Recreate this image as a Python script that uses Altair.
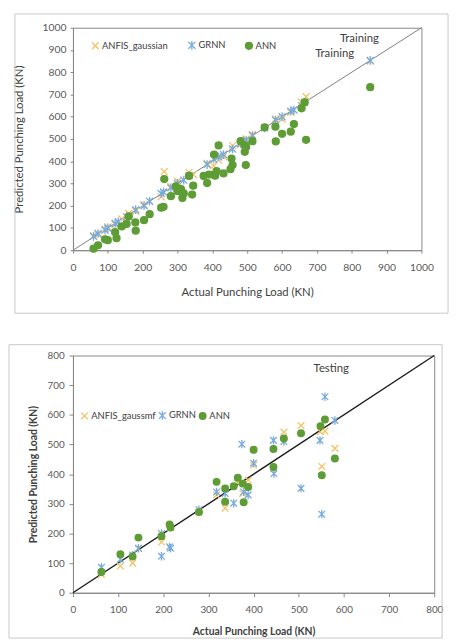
import altair as alt
import pandas as pd

# ---------------- Training (top) ----------------
names_top = ["ANFIS_gaussian", "GRNN", "ANN"]

anfis_tr_x = [59, 72, 92, 100, 121, 140, 160, 180, 204, 253, 262, 281, 300, 333, 345, 385, 404, 418, 432, 458, 481, 497, 515, 581, 600, 625, 656, 669, 853]
anfis_tr_y = [65, 70, 95, 105, 115, 140, 165, 175, 205, 240, 353, 285, 310, 350, 340, 390, 380, 405, 420, 470, 475, 500, 520, 590, 590, 620, 665, 690, 850]

grnn_tr_x = [59, 72, 92, 100, 121, 130, 154, 180, 204, 220, 253, 260, 281, 300, 318, 333, 385, 404, 418, 432, 458, 481, 497, 515, 550, 581, 600, 625, 634, 656, 665, 853]
grnn_tr_y = [62, 75, 90, 100, 120, 128, 150, 182, 200, 220, 255, 262, 280, 300, 315, 335, 385, 410, 420, 430, 455, 480, 495, 515, 550, 585, 600, 625, 630, 650, 665, 853]

ann_tr_x = [59, 72, 92, 100, 121, 125, 140, 154, 160, 179, 180, 204, 220, 253, 260, 262, 281, 295, 300, 310, 314, 318, 333, 342, 345, 375, 385, 390, 404, 408, 412, 405, 418, 432, 452, 455, 458, 481, 493, 493, 496, 497, 515, 550, 581, 600, 582, 625, 634, 669, 656, 665, 853]
ann_tr_y = [7, 22, 49, 45, 81, 54, 107, 118, 152, 125, 88, 135, 162, 191, 195, 320, 243, 287, 265, 275, 235, 255, 334, 250, 290, 334, 302, 340, 339, 335, 355, 430, 471, 345, 364, 412, 383, 490, 471, 442, 383, 465, 490, 552, 555, 523, 489, 533, 567, 496, 638, 665, 733]

diag_top = [0, 1000]
train_label_x = [822, 751]
train_label_y = [947, 881]
train_label_t = ["Training", "Training"]

# ---------------- Testing (bottom) ----------------
names_bot = ["ANFIS_gaussmf", "GRNN", "ANN"]

anfis_te_x = [63, 105, 132, 145, 196, 216, 279, 318, 337, 365, 376, 388, 400, 444, 467, 505, 548, 551, 558, 580]
anfis_te_y = [62, 90, 100, 149, 171, 220, 272, 330, 285, 370, 335, 380, 430, 420, 542, 564, 543, 426, 545, 487]

grnn_te_x = [63, 105, 132, 145, 196, 196, 216, 214, 279, 318, 337, 356, 374, 388, 378, 400, 444, 445, 467, 505, 547, 551, 558, 580]
grnn_te_y = [86, 113, 127, 150, 123, 200, 150, 155, 280, 340, 335, 302, 501, 330, 340, 437, 514, 402, 510, 352, 514, 265, 661, 581]

ann_te_x = [63, 105, 132, 145, 196, 214, 216, 279, 318, 337, 337, 356, 365, 376, 378, 388, 400, 444, 444, 467, 505, 548, 551, 558, 580]
ann_te_y = [70, 130, 122, 186, 191, 230, 220, 272, 374, 352, 307, 359, 388, 368, 305, 357, 482, 485, 424, 520, 538, 562, 396, 584, 453]

diag_bot = [0, 800]
test_label_x = [572]
test_label_y = [755]
test_label_t = ["Testing"]

# ---------------- styling ----------------
C_ANFIS = "#F5C266"
C_GRNN = "#78ABDC"
C_ANN = "#5E9C36"
X_PATH = "M-1,-1L1,1M-1,1L1,-1"
AST_PATH = "M-1,-1L1,1M-1,1L1,-1M0,-1.25L0,1.25"
FONT = "Lato"


def long_df(names, xs, ys):
    rows = []
    for n, xv, yv in zip(names, xs, ys):
        for a, b in zip(xv, yv):
            rows.append({"series": n, "actual": a, "pred": b})
    return pd.DataFrame(rows)


def panel(names, xs, ys, diag, lab_x, lab_y, lab_t, maxv, w, h, frame,
          legend_xy, col_pad, msize, diag_color, diag_w, label_size,
          title_size, title_weight, tick_size, lab_pad_x, lab_pad_y,
          tit_pad_x, tit_pad_y, legend_size):
    df = long_df(names, xs, ys)
    ticks = list(range(0, maxv + 1, 100))
    xsc = alt.Scale(domain=[0, maxv], nice=False, zero=True)
    ysc = alt.Scale(domain=[0, maxv], nice=False, zero=True)

    ax_common = dict(values=ticks, grid=False, tickSize=tick_size, labelOverlap=False,
                     labelFlush=False,
                     domainColor="#868686", tickColor="#868686",
                     labelColor="#595959", labelFontSize=label_size, labelFont=FONT,
                     titleFont=FONT, titleFontSize=title_size, titleFontWeight=title_weight,
                     titleColor="#404040", format="d")
    x_axis = alt.Axis(title="Actual Punching Load (KN)", labelPadding=lab_pad_x,
                      titlePadding=tit_pad_x, **ax_common)
    y_axis = alt.Axis(title="Predicted Punching Load (KN)", labelPadding=lab_pad_y,
                      titlePadding=tit_pad_y, **ax_common)

    frame_df = pd.DataFrame({"f": [0]})
    frame_layer = alt.Chart(frame_df).mark_rect(
        fillOpacity=0, stroke="#c8c8c8", strokeWidth=1
    ).encode(
        x=alt.value(frame[0]), x2=alt.value(frame[1]),
        y=alt.value(frame[2]), y2=alt.value(frame[3]),
    )

    ddf = pd.DataFrame({"v": diag})
    diag_layer = alt.Chart(ddf).mark_line(color=diag_color, strokeWidth=diag_w).encode(
        x=alt.X("v:Q", scale=xsc, axis=x_axis, title="Actual Punching Load (KN)"),
        y=alt.Y("v:Q", scale=ysc, axis=y_axis, title="Predicted Punching Load (KN)"),
    )

    pts = alt.Chart(df).mark_point(filled=False, opacity=1, size=msize, strokeWidth=1.3).encode(
        x=alt.X("actual:Q", scale=xsc, axis=x_axis, title="Actual Punching Load (KN)"),
        y=alt.Y("pred:Q", scale=ysc, axis=y_axis, title="Predicted Punching Load (KN)"),
        color=alt.Color("series:N", sort=names,
                        scale=alt.Scale(domain=names, range=[C_ANFIS, C_GRNN, C_ANN]),
                        legend=alt.Legend(orient="none", direction="horizontal",
                                          legendX=legend_xy[0], legendY=legend_xy[1],
                                          title=None, columnPadding=col_pad, padding=0,
                                          labelFont=FONT, labelFontSize=legend_size,
                                          labelColor="#404040", symbolSize=msize,
                                          symbolStrokeWidth=1.3, labelOffset=2)),
        shape=alt.Shape("series:N", sort=names,
                        scale=alt.Scale(domain=names, range=[X_PATH, AST_PATH, "circle"])),
        fill=alt.Fill("series:N", sort=names,
                      scale=alt.Scale(domain=names, range=["transparent", "transparent", C_ANN])),
        order=alt.Order("ord:Q"),
    ).transform_calculate(
        ord="datum.series == 'ANN' ? 2 : (datum.series == 'GRNN' ? 1 : 0)"
    )

    tdf = pd.DataFrame({"x": lab_x, "y": lab_y, "t": lab_t})
    txt = alt.Chart(tdf).mark_text(font=FONT, fontSize=11.5, color="#404040").encode(
        x=alt.X("x:Q", scale=xsc, axis=x_axis, title="Actual Punching Load (KN)"),
        y=alt.Y("y:Q", scale=ysc, axis=y_axis, title="Predicted Punching Load (KN)"),
        text="t:N",
    )

    return alt.layer(frame_layer, diag_layer, pts, txt).properties(width=w, height=h)


top = panel(names_top, [anfis_tr_x, grnn_tr_x, ann_tr_x], [anfis_tr_y, grnn_tr_y, ann_tr_y],
            diag_top, train_label_x, train_label_y, train_label_t, 1000, 354, 226,
            frame=(-59, 381, -14, 290), legend_xy=(18, 13), col_pad=17, msize=50,
            diag_color="#7f7f7f", diag_w=1, label_size=10.5, title_size=11.5,
            title_weight="normal", tick_size=3, lab_pad_x=10, lab_pad_y=4,
            tit_pad_x=14, tit_pad_y=18, legend_size=9.5)

bottom = panel(names_bot, [anfis_te_x, grnn_te_x, ann_te_x], [anfis_te_y, grnn_te_y, ann_te_y],
               diag_bot, test_label_x, test_label_y, test_label_t, 800, 367, 241,
               frame=(-65, 375, -11, 287), legend_xy=(7, 56), col_pad=0, msize=46,
               diag_color="#1a1a1a", diag_w=1.4, label_size=10, title_size=10.5,
               title_weight="bold", tick_size=4, lab_pad_x=8, lab_pad_y=5,
               tit_pad_x=12, tit_pad_y=9, legend_size=9.5)

chart = alt.vconcat(top, bottom, spacing=30).resolve_scale(
    x="independent", y="independent", color="independent",
    shape="independent", fill="independent"
).resolve_legend(color="independent", shape="independent", fill="independent").properties(
    padding=0
).configure_view(
    stroke="#868686", strokeWidth=1
).configure_axis(labelFont=FONT, titleFont=FONT)

chart.save("out.html", embed_options={"renderer": "svg", "actions": False})
